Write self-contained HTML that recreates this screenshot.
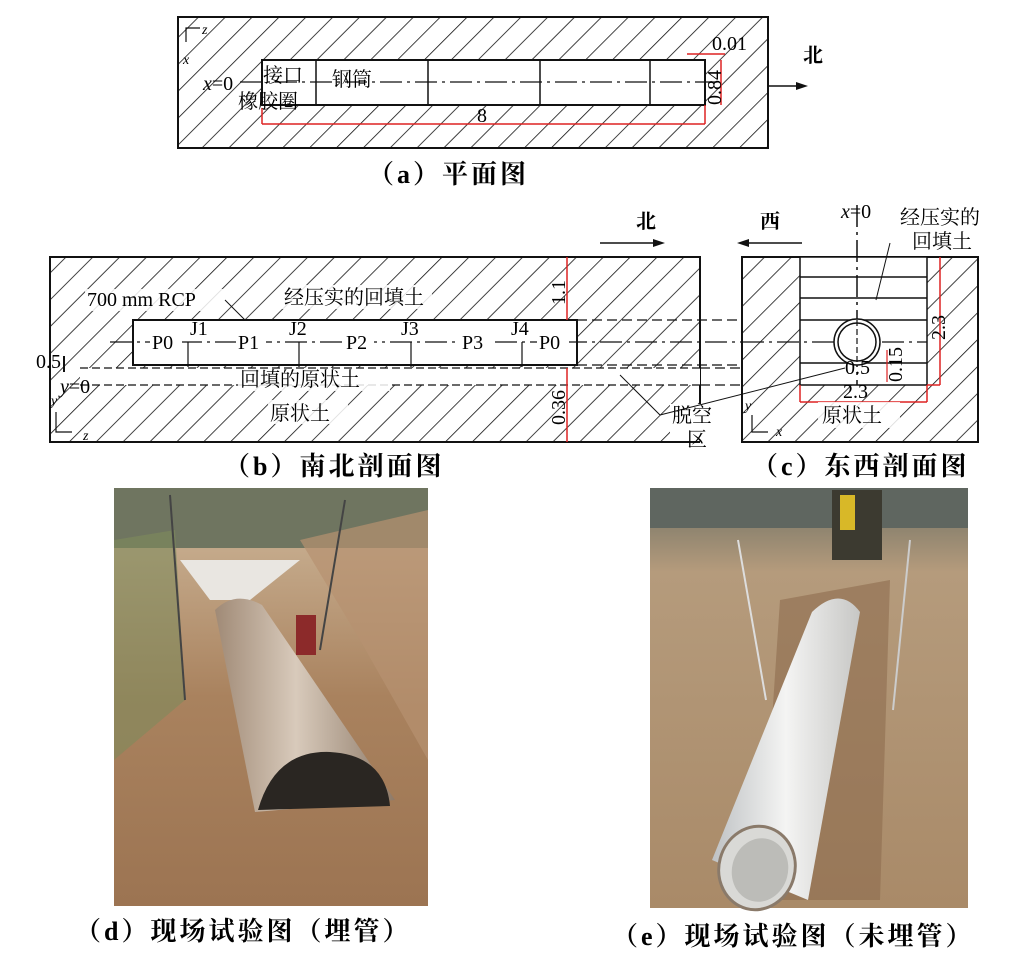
<!DOCTYPE html>
<html><head><meta charset="utf-8"><style>
html,body{margin:0;padding:0;background:#fff;}
svg{display:block;}
text{font-family:"Liberation Serif","Noto Serif CJK SC",serif;fill:#000;}
.cap{font-size:26px;font-weight:bold;letter-spacing:3px;font-family:"Liberation Serif","Noto Serif CJK SC",serif;}
.lb{font-size:20px;}
</style></head><body>
<svg width="1028" height="973" viewBox="0 0 1028 973" xmlns="http://www.w3.org/2000/svg">
<defs>
<pattern id="h" patternUnits="userSpaceOnUse" width="19" height="19" patternTransform="rotate(45)">
<line x1="0" y1="0" x2="0" y2="19" stroke="#111" stroke-width="1.6"/>
</pattern>
<linearGradient id="dsoil" x1="0" y1="0" x2="0" y2="1">
<stop offset="0" stop-color="#8a8a6c"/><stop offset="0.15" stop-color="#c4a98a"/><stop offset="0.5" stop-color="#a9825e"/><stop offset="1" stop-color="#9c7452"/>
</linearGradient>
<linearGradient id="esoil" x1="0" y1="0" x2="0" y2="1">
<stop offset="0" stop-color="#6d7064"/><stop offset="0.2" stop-color="#b59b7c"/><stop offset="1" stop-color="#a98a68"/>
</linearGradient>
<linearGradient id="pipeD" x1="0" y1="0" x2="1" y2="0">
<stop offset="0" stop-color="#a08a76"/><stop offset="0.45" stop-color="#d8cabb"/><stop offset="1" stop-color="#8e7a68"/>
</linearGradient>
<linearGradient id="pipeE" x1="0" y1="0" x2="1" y2="0">
<stop offset="0" stop-color="#bfc2c4"/><stop offset="0.5" stop-color="#f4f4f3"/><stop offset="1" stop-color="#c7c7c5"/>
</linearGradient>
</defs>

<!-- (a) -->
<rect x="178" y="17" width="590" height="131" fill="url(#h)" stroke="#111" stroke-width="2"/>
<rect x="262" y="60" width="443" height="45" fill="#fff" stroke="#111" stroke-width="2"/>
<line x1="316" y1="60" x2="316" y2="105" stroke="#111" stroke-width="1.5"/>
<line x1="428" y1="60" x2="428" y2="105" stroke="#111" stroke-width="1.5"/>
<line x1="540" y1="60" x2="540" y2="105" stroke="#111" stroke-width="1.5"/>
<line x1="650" y1="60" x2="650" y2="105" stroke="#111" stroke-width="1.5"/>
<line x1="240" y1="82" x2="720" y2="82" stroke="#111" stroke-width="1.2" stroke-dasharray="22,5,3,5"/>
<line x1="262" y1="108" x2="262" y2="124" stroke="#d22" stroke-width="1.5"/>
<line x1="262" y1="124" x2="705" y2="124" stroke="#d22" stroke-width="1.5"/>
<line x1="705" y1="105" x2="705" y2="124" stroke="#d22" stroke-width="1.5"/>
<line x1="721" y1="60" x2="721" y2="105" stroke="#d22" stroke-width="1.5"/>
<line x1="687" y1="54" x2="725" y2="54" stroke="#d22" stroke-width="1.5"/>
<text x="712" y="50" class="lb">0.01</text>
<text x="0" y="0" class="lb" transform="translate(721,105) rotate(-90)">0.84</text>
<text x="477" y="122" class="lb">8</text>
<text x="203" y="90" class="lb"><tspan font-style="italic">x</tspan>=0</text>
<text x="263" y="82" class="lb">接口</text>
<text x="332" y="86" class="lb">钢筒</text>
<text x="238" y="108" class="lb">橡胶圈</text>
<path d="M186 42 V28 H200" fill="none" stroke="#111" stroke-width="1.2"/>
<text x="202" y="34" font-size="14" font-style="italic">z</text>
<text x="183" y="64" font-size="14" font-style="italic">x</text>
<line x1="768" y1="86" x2="800" y2="86" stroke="#111" stroke-width="1.5"/>
<polygon points="808,86 796,82 796,90" fill="#111"/>
<text x="803" y="62" class="lb" font-weight="bold">北</text>
<text x="368" y="183" class="cap">（a）平面图</text>

<!-- (b) -->
<rect x="50" y="257" width="650" height="185" fill="url(#h)" stroke="#111" stroke-width="2"/>
<rect x="133" y="320" width="444" height="45" fill="#fff" stroke="#111" stroke-width="2"/>
<rect x="80" y="368" width="620" height="17" fill="#fff"/>
<line x1="80" y1="368" x2="700" y2="368" stroke="#111" stroke-width="1.2" stroke-dasharray="8,4"/>
<line x1="80" y1="385" x2="700" y2="385" stroke="#111" stroke-width="1.2" stroke-dasharray="8,4"/>
<line x1="577" y1="320" x2="742" y2="320" stroke="#111" stroke-width="1.2" stroke-dasharray="10,5"/>
<line x1="577" y1="365" x2="742" y2="365" stroke="#111" stroke-width="1.2" stroke-dasharray="10,5"/>
<line x1="700" y1="368" x2="742" y2="368" stroke="#111" stroke-width="1.2" stroke-dasharray="10,5"/>
<line x1="700" y1="385" x2="742" y2="385" stroke="#111" stroke-width="1.2" stroke-dasharray="10,5"/>
<line x1="110" y1="342" x2="742" y2="342" stroke="#111" stroke-width="1.2" stroke-dasharray="22,5,3,5"/>
<line x1="188" y1="342" x2="188" y2="367" stroke="#111" stroke-width="1.2"/>
<line x1="299" y1="342" x2="299" y2="367" stroke="#111" stroke-width="1.2"/>
<line x1="411" y1="342" x2="411" y2="367" stroke="#111" stroke-width="1.2"/>
<line x1="522" y1="342" x2="522" y2="367" stroke="#111" stroke-width="1.2"/>
<rect x="150" y="333" width="32" height="20" fill="#fff"/>
<text x="152" y="349" class="lb">P0</text>
<text x="190" y="335" class="lb">J1</text>
<rect x="236" y="333" width="30" height="20" fill="#fff"/>
<text x="238" y="349" class="lb">P1</text>
<text x="289" y="335" class="lb">J2</text>
<rect x="344" y="333" width="30" height="20" fill="#fff"/>
<text x="346" y="349" class="lb">P2</text>
<text x="401" y="335" class="lb">J3</text>
<rect x="460" y="333" width="30" height="20" fill="#fff"/>
<text x="462" y="349" class="lb">P3</text>
<text x="511" y="335" class="lb">J4</text>
<rect x="537" y="333" width="32" height="20" fill="#fff"/>
<text x="539" y="349" class="lb">P0</text>
<rect x="85" y="289" width="140" height="22" fill="#fff" opacity="0.85"/>
<text x="87" y="306" class="lb">700 mm RCP</text>
<line x1="225" y1="300" x2="245" y2="320" stroke="#111" stroke-width="1"/>
<rect x="282" y="285" width="150" height="24" fill="#fff" opacity="0.85"/>
<text x="284" y="304" class="lb">经压实的回填土</text>
<rect x="238" y="369" width="152" height="22" fill="#fff" opacity="0.85"/>
<text x="240" y="386" class="lb">回填的原状土</text>
<rect x="268" y="400" width="80" height="24" fill="#fff" opacity="0.85"/>
<text x="270" y="420" class="lb">原状土</text>
<line x1="567" y1="257" x2="567" y2="320" stroke="#d22" stroke-width="1.5"/>
<line x1="567" y1="368" x2="567" y2="442" stroke="#d22" stroke-width="1.5"/>
<text class="lb" transform="translate(565,305) rotate(-90)">1.1</text>
<text class="lb" transform="translate(565,425) rotate(-90)">0.36</text>
<text x="36" y="368" class="lb">0.5</text>
<line x1="64" y1="356" x2="64" y2="372" stroke="#111" stroke-width="2"/>
<text x="60" y="393" class="lb"><tspan font-style="italic">y</tspan>=0</text>
<text x="51" y="405" font-size="14" font-style="italic">y</text>
<path d="M56 412 V432 H72" fill="none" stroke="#111" stroke-width="1.2"/>
<text x="83" y="440" font-size="14" font-style="italic">z</text>
<line x1="600" y1="243" x2="655" y2="243" stroke="#111" stroke-width="1.5"/>
<polygon points="665,243 653,239 653,247" fill="#111"/>
<text x="636" y="228" class="lb" font-weight="bold">北</text>
<text x="224" y="475" class="cap">（b）南北剖面图</text>

<!-- (c) -->
<rect x="742" y="257" width="236" height="185" fill="url(#h)" stroke="#111" stroke-width="2"/>
<rect x="800" y="257" width="127" height="128" fill="#fff" stroke="#111" stroke-width="1.5"/>
<g stroke="#111" stroke-width="1.5">
<line x1="800" y1="277" x2="927" y2="277"/>
<line x1="800" y1="298" x2="927" y2="298"/>
<line x1="800" y1="320" x2="927" y2="320"/>
<line x1="800" y1="363" x2="927" y2="363"/>
</g>
<line x1="742" y1="342" x2="927" y2="342" stroke="#111" stroke-width="1.2" stroke-dasharray="22,5,3,5"/>
<line x1="857" y1="205" x2="857" y2="385" stroke="#111" stroke-width="1.5" stroke-dasharray="22,5,3,5"/>
<circle cx="857" cy="342" r="23" fill="#fff" stroke="#111" stroke-width="1.5"/>
<circle cx="857" cy="342" r="19" fill="none" stroke="#111" stroke-width="1.5"/>
<line x1="857" y1="320" x2="857" y2="364" stroke="#111" stroke-width="1.2" stroke-dasharray="6,3"/>
<line x1="940" y1="257" x2="940" y2="385" stroke="#d22" stroke-width="1.5"/>
<line x1="927" y1="385" x2="940" y2="385" stroke="#d22" stroke-width="1.5"/>
<line x1="800" y1="385" x2="800" y2="402" stroke="#d22" stroke-width="1.5"/>
<line x1="800" y1="402" x2="927" y2="402" stroke="#d22" stroke-width="1.5"/>
<line x1="927" y1="385" x2="927" y2="402" stroke="#d22" stroke-width="1.5"/>
<line x1="887" y1="350" x2="887" y2="382" stroke="#d22" stroke-width="1.2"/>
<text class="lb" transform="translate(945,340) rotate(-90)">2.3</text>
<text class="lb" transform="translate(902,382) rotate(-90)">0.15</text>
<text x="845" y="374" class="lb">0.5</text>
<text x="843" y="398" class="lb">2.3</text>
<text x="900" y="224" class="lb">经压实的</text>
<text x="912" y="248" class="lb">回填土</text>
<line x1="890" y1="243" x2="876" y2="300" stroke="#111" stroke-width="1"/>
<text x="841" y="218" class="lb"><tspan font-style="italic">x</tspan>=0</text>
<rect x="818" y="402" width="82" height="26" fill="#fff" opacity="0.85"/>
<text x="822" y="422" class="lb">原状土</text>
<rect x="670" y="404" width="46" height="44" fill="#fff"/>
<line x1="670" y1="442" x2="700" y2="442" stroke="#111" stroke-width="2"/>
<text x="672" y="422" class="lb">脱空</text>
<text x="687" y="446" class="lb">区</text>
<line x1="660" y1="415" x2="845" y2="368" stroke="#111" stroke-width="1"/>
<line x1="660" y1="415" x2="620" y2="375" stroke="#111" stroke-width="1"/>
<path d="M752 415 V432 H768" fill="none" stroke="#111" stroke-width="1.2"/>
<text x="745" y="410" font-size="14" font-style="italic">y</text>
<text x="776" y="436" font-size="14" font-style="italic">x</text>
<line x1="745" y1="243" x2="802" y2="243" stroke="#111" stroke-width="1.5"/>
<polygon points="737,243 749,239 749,247" fill="#111"/>
<text x="760" y="228" class="lb" font-weight="bold">西</text>
<text x="752" y="475" class="cap">（c）东西剖面图</text>

<!-- (d) photo -->
<rect x="114" y="488" width="314" height="418" fill="url(#dsoil)"/>
<rect x="114" y="488" width="314" height="60" fill="#6f7560"/>
<polygon points="114,540 175,530 185,700 114,760" fill="#7e8a5c" opacity="0.6"/>
<polygon points="300,540 428,510 428,760 360,640" fill="#b69270" opacity="0.7"/>
<polygon points="180,560 300,560 250,600 210,600" fill="#e9e6e1"/>
<path d="M215 610 Q235 590 262 605 L395 800 L255 812 Z" fill="url(#pipeD)"/>
<path d="M258 810 Q275 750 330 752 Q385 755 390 806 Z" fill="#2a2622"/>
<rect x="296" y="615" width="20" height="40" fill="#8c2a2a"/>
<line x1="170" y1="495" x2="185" y2="700" stroke="#444" stroke-width="2"/>
<line x1="345" y1="500" x2="320" y2="650" stroke="#444" stroke-width="2"/>
<text x="75" y="940" class="cap">（d）现场试验图（埋管）</text>

<!-- (e) photo -->
<rect x="650" y="488" width="318" height="420" fill="url(#esoil)"/>
<rect x="650" y="488" width="318" height="40" fill="#5f6660"/>
<rect x="832" y="490" width="50" height="70" fill="#3c3a30"/>
<rect x="840" y="495" width="15" height="35" fill="#d8b828"/>
<polygon points="780,600 890,580 880,900 760,900" fill="#8d6c4e" opacity="0.6"/>
<path d="M812 612 Q840 585 860 612 L808 900 L712 860 Z" fill="url(#pipeE)"/>
<ellipse cx="757" cy="868" rx="38" ry="42" fill="#d9d9d6" stroke="#8a7a6a" stroke-width="3" transform="rotate(15 757 868)"/>
<ellipse cx="760" cy="870" rx="28" ry="32" fill="#bcbcb8" transform="rotate(15 760 870)"/>
<line x1="738" y1="540" x2="766" y2="700" stroke="#ddd" stroke-width="2"/>
<line x1="910" y1="540" x2="893" y2="710" stroke="#ccc" stroke-width="2"/>
<text x="612" y="945" class="cap">（e）现场试验图（未埋管）</text>
</svg>
</body></html>
